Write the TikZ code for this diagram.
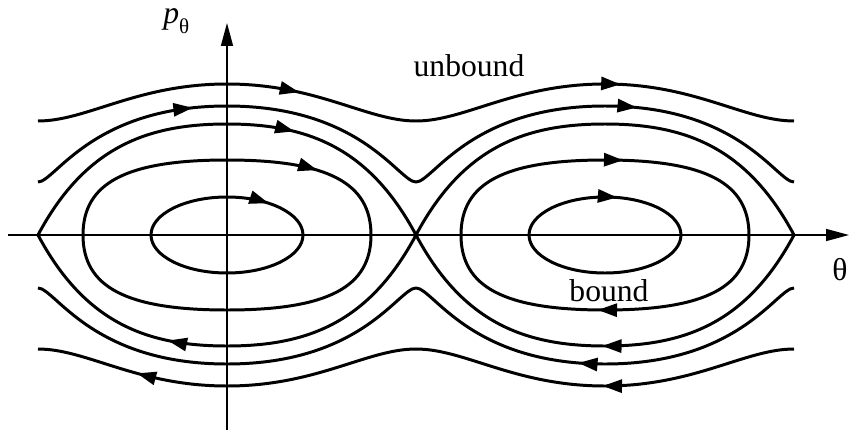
\documentclass[tikz,border=0pt]{standalone}
\usepackage{fontspec}
\setmainfont{Liberation Serif}
\usetikzlibrary{arrows.meta,decorations.markings}

\begin{document}
\begin{tikzpicture}[
    x=0.02cm, y=0.02cm,
    font=\fontsize{18}{21}\selectfont,
    axis/.style={line width=0.8pt, -{Triangle[length=13pt,width=6.8pt]}},
    orbit/.style={line width=1.7pt, line join=round},
    flow/.style={postaction={decorate, decoration={markings,
        mark=at position #1 with {\arrow{Triangle[length=11pt,width=7.4pt]}}}}}
  ]
    \useasboundingbox (-227,-195) rectangle (622,235);
    \coordinate (xmin) at (-219,0);
    \coordinate (xmax) at (622,0);
    \coordinate (ymin) at (0,-195);
    \coordinate (ymax) at (0,212);
    \draw[axis] (xmin) -- (xmax);
    \draw[axis] (ymin) -- (ymax);

    \node[anchor=base west, inner sep=0] (plabel) at (-64,212) {\textit{p}\raisebox{-5.7pt}{\fontsize{12}{12}\selectfont θ}};
    \node[anchor=base, inner sep=0] (thlabel) at (613,-45) {θ};
    \node[anchor=base, inner sep=0] (unbound) at (242,159) {unbound};
    \node[anchor=base, inner sep=0] (bound) at (382,-66) {bound};

    % inner orbits
    \draw[orbit, flow=0.365] (-76,0) .. controls (-76,21) and (-42,38) .. (0,38)
      .. controls (42,38) and (76,21) .. (76,0) .. controls (76,-21) and (42,-38) .. (0,-38)
      .. controls (-42,-38) and (-76,-21) .. (-76,0) -- cycle;
    \draw[orbit, flow=0.283] (302,0) .. controls (302,21) and (336,38) .. (378,38)
      .. controls (420,38) and (454,21) .. (454,0) .. controls (454,-21) and (420,-38) .. (378,-38)
      .. controls (336,-38) and (302,-21) .. (302,0) -- cycle;

    % middle orbits
    \draw[orbit, flow=0.375] (-144,0) .. controls (-144,52) and (-101,75) .. (0,75)
      .. controls (101,75) and (144,52) .. (144,0) .. controls (144,-52) and (101,-75) .. (0,-75)
      .. controls (-101,-75) and (-144,-52) .. (-144,0) -- cycle;
    \draw[orbit, flow=0.275, flow=0.76] (234,0) .. controls (234,52) and (277,75) .. (378,75)
      .. controls (479,75) and (522,52) .. (522,0) .. controls (522,-52) and (479,-75) .. (378,-75)
      .. controls (277,-75) and (234,-52) .. (234,0) -- cycle;

    % separatrix
    \draw[orbit, flow=0.323, flow=0.814] (-189,0) .. controls (-142,88) and (-80,111) .. (0,111)
      .. controls (80,111) and (142,88) .. (189,0) .. controls (142,-88) and (80,-111) .. (0,-111)
      .. controls (-80,-111) and (-142,-88) .. (-189,0);
    \draw[orbit, flow=0.753] (189,0) .. controls (236,88) and (298,111) .. (378,111)
      .. controls (458,111) and (520,88) .. (567,0) .. controls (520,-88) and (458,-111) .. (378,-111)
      .. controls (298,-111) and (236,-88) .. (189,0);

    % unbound
    \draw[orbit, flow=0.344, flow=0.77] (-189,114) .. controls (-140,114) and (-90,151) .. (0,151)
      .. controls (90,151) and (140,114) .. (189,114) .. controls (238,114) and (288,151) .. (378,151)
      .. controls (468,151) and (518,114) .. (567,114);
    \draw[orbit, flow=0.209, flow=0.788] (-189,53) .. controls (-172,53) and (-135,129) .. (0,129)
      .. controls (135,129) and (172,53) .. (189,53) .. controls (206,53) and (243,129) .. (378,129)
      .. controls (513,129) and (550,53) .. (567,53);
    \draw[orbit, flow=0.282] (567,-53) .. controls (550,-53) and (513,-129) .. (378,-129)
      .. controls (243,-129) and (206,-53) .. (189,-53) .. controls (172,-53) and (135,-129) .. (0,-129)
      .. controls (-135,-129) and (-172,-53) .. (-189,-53);
    \draw[orbit, flow=0.253, flow=0.868] (567,-114) .. controls (518,-114) and (468,-151) .. (378,-151)
      .. controls (288,-151) and (238,-114) .. (189,-114) .. controls (140,-114) and (90,-151) .. (0,-151)
      .. controls (-90,-151) and (-140,-114) .. (-189,-114);
  \end{tikzpicture}
\end{document}
